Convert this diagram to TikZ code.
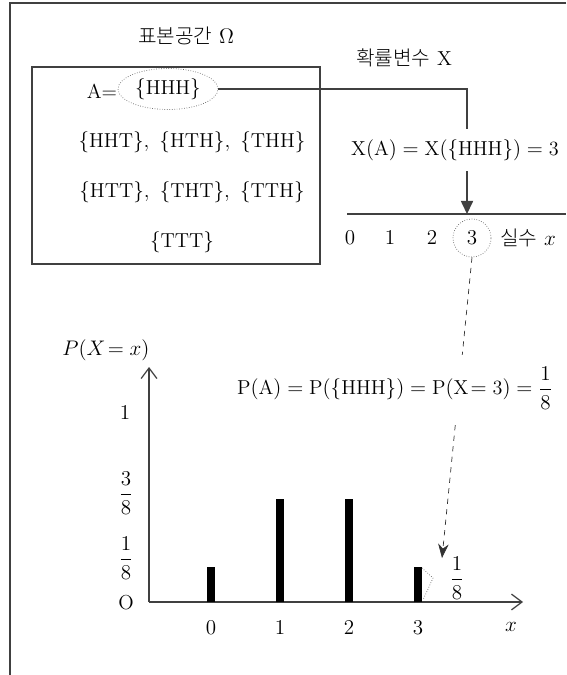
\documentclass[tikz,border=0pt]{standalone}
\usepackage{amsmath}
\usepackage{fontspec}
\newfontfamily\kr{Noto Sans CJK KR}[UprightFont={* Light}]
\usepackage{tikz}
\usetikzlibrary{arrows.meta, positioning, calc, shapes.geometric}

\begin{document}
\begin{tikzpicture}[
    x=0.02cm, y=-0.02cm,
    font=\fontsize{11.5}{13}\selectfont,
    frame/.style={draw=black!75, line width=0.7pt},
    ring/.style={draw=black!60, densely dotted, inner sep=0pt},
    bar/.style={line width=4pt},
    lbl/.style={inner sep=1pt}
  ]
  \useasboundingbox (0,0) rectangle (566,675);
  \draw[frame] (566,3) -- (10,3) -- (10,675);

  % sample space
  \node (omega) at (186,36) {{\kr 표본공간} $\Omega$};
  \draw[frame] (32,67) rectangle (320,264);
  \node (a) at (102,91) {A=};
  \node[ring, ellipse, minimum width=2cm, minimum height=0.82cm] (hhh) at (168,89) {$\{\mathrm{HHH}\}$};
  \node (row2) at (192,142) {$\{\mathrm{HHT}\},\ \{\mathrm{HTH}\},\ \{\mathrm{THH}\}$};
  \node (row3) at (192,192) {$\{\mathrm{HTT}\},\ \{\mathrm{THT}\},\ \{\mathrm{TTH}\}$};
  \node (row4) at (182,242) {$\{\mathrm{TTT}\}$};

  % random variable
  \node (rv) at (404,58) {{\kr 확률변수} X};
  \coordinate (tip1) at (467,214);
  \draw[frame, -{Triangle[length=7.5pt, width=7pt]}] (hhh.east) -| (tip1);
  \node[fill=white, inner ysep=6pt] (xa) at (455,150) {$\mathrm{X(A)=X(\{HHH\})=3}$};

  % real line
  \coordinate (nl0) at (347,214);
  \coordinate (nl1) at (566,214);
  \draw[frame] (nl0) -- (nl1);
  \foreach \v/\px in {0/350, 1/390, 2/432, 3/472}
    \node (r\v) at (\px,238) {$\v$};
  \node (real) at (528,238) {{\kr 실수} $x$};
  \node[ring, circle, minimum size=0.76cm] (ring3) at (r3) {};

  % probability
  \coordinate (tip2) at (442,558);
  \draw[dashed, black!80, -{Stealth[length=8pt, width=6pt]}] (ring3.south) -- (tip2);
  \node[fill=white, inner ysep=7pt] (pa) at (395,388) {$\mathrm{P(A)=P(\{HHH\})=P(X\!=3)}=\dfrac{1}{8}$};

  % graph
  \coordinate (o) at (149,602);
  \draw[frame, -{Straight Barb[length=6pt, width=9pt]}] (o) -- (523,602);
  \draw[frame, -{Straight Barb[length=6pt, width=9pt]}] (o) -- (149,367);
  \node (pxx) at (106,350) {$P(X\!=x)$};
  \node[lbl] (y1) at (125,413) {$1$};
  \node[lbl] (y38) at (126,493) {$\dfrac{3}{8}$};
  \node[lbl] (y18) at (126,558) {$\dfrac{1}{8}$};
  \node[lbl] (y0) at (126,603) {$\mathrm{O}$};
  \foreach \v/\px/\h in {0/211/35, 1/280/103, 2/349/103, 3/418/35} {
    \draw[bar] (\px,602) -- (\px,602-\h);
    \node (t\v) at (\px,628) {$\v$};
  }
  \node (xlab) at (511,627) {$x$};
  \draw[densely dotted, black!60] (422,568) -- (433,578) -- (423,600);
  \node[lbl] (p3) at (457,578) {$\dfrac{1}{8}$};
\end{tikzpicture}
\end{document}
